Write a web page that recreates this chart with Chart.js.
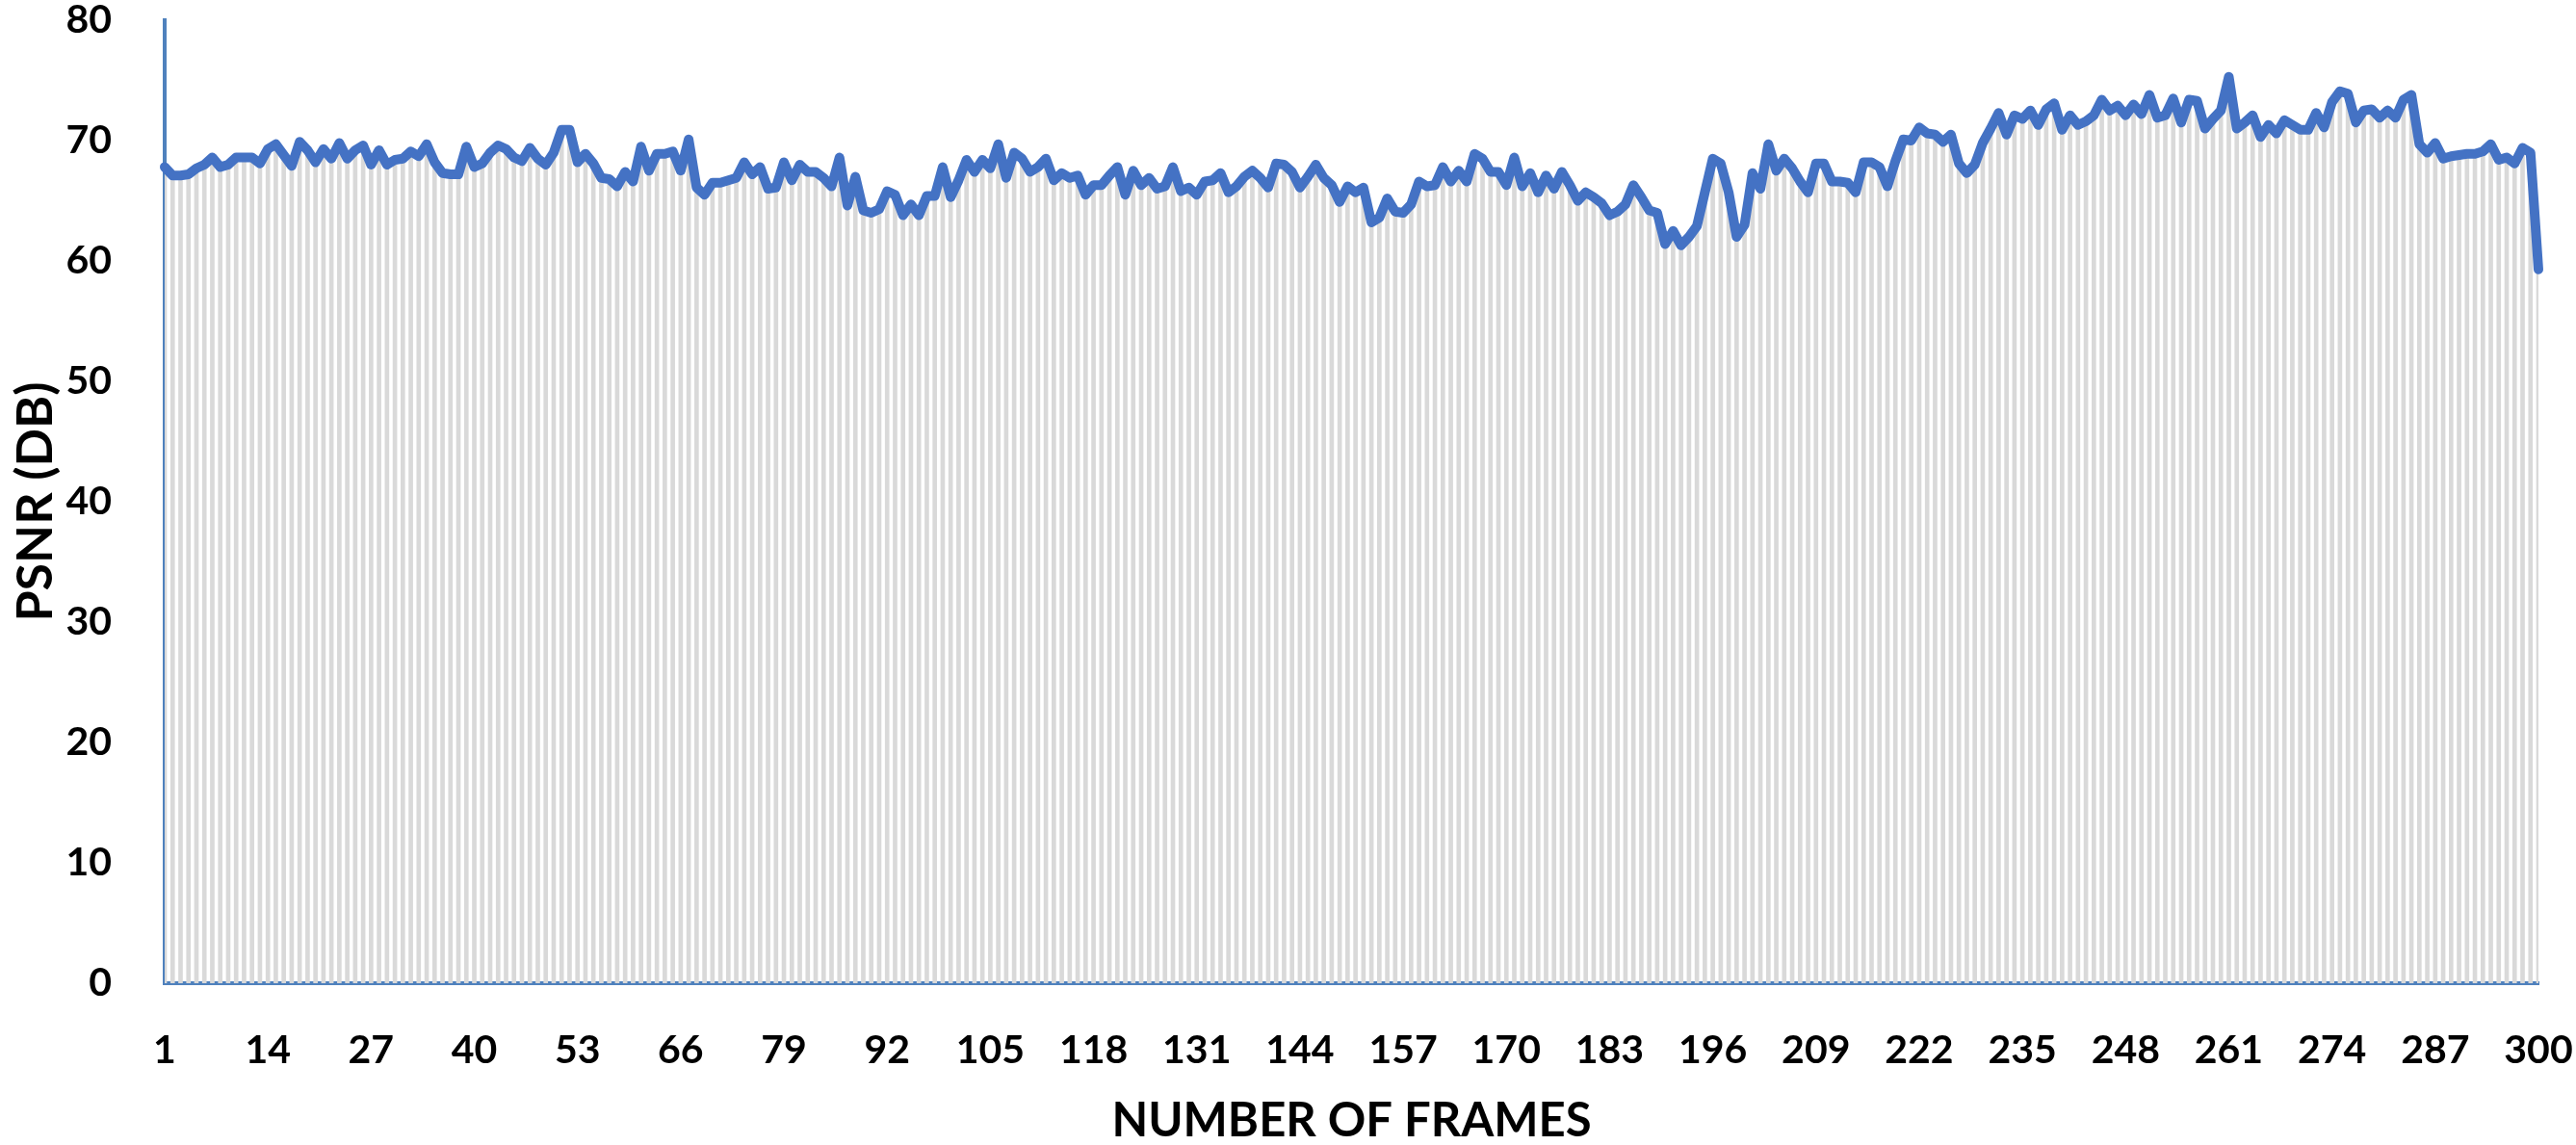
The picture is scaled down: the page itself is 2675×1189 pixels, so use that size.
<!DOCTYPE html>
<html>
<head>
<meta charset="utf-8">
<script src="https://cdn.jsdelivr.net/npm/chart.js@4.4.1/dist/chart.umd.min.js"></script>
<style>
html,body{margin:0;padding:0;background:#ffffff;overflow:hidden;}
#wrap{width:2675px;height:1189px;position:relative;}
canvas{display:block;}
</style>
</head>
<body>
<div id="wrap"><canvas id="c" width="2675" height="1189"></canvas></div>
<script>
// Categories: frame numbers 1..300
const frames = Array.from({length: 300}, (_, i) => i + 1);

// Tick labels shown on the x axis
const tickLabels = [1, 14, 27, 40, 53, 66, 79, 92, 105, 118, 131, 144, 157, 170, 183, 196, 209, 222, 235, 248, 261, 274, 287, 300];

// Y tick values
const yTicks = [0, 10, 20, 30, 40, 50, 60, 70, 80];

// PSNR (dB) per frame
const psnrFrames1to100 = [
  67.8, 67.1, 67.1, 67.2, 67.7, 68.0, 68.6, 67.8, 68.0, 68.6,
  68.6, 68.6, 68.1, 69.3, 69.7, 68.8, 67.9, 69.9, 69.2, 68.2,
  69.3, 68.5, 69.8, 68.5, 69.2, 69.6, 68.0, 69.2, 68.0, 68.4,
  68.5, 69.1, 68.7, 69.7, 68.2, 67.3, 67.2, 67.2, 69.5, 67.8,
  68.1, 69.0, 69.6, 69.3, 68.6, 68.3, 69.4, 68.5, 68.0, 69.0,
  70.9, 70.9, 68.2, 68.9, 68.1, 66.9, 66.8, 66.2, 67.4, 66.6,
  69.5, 67.5, 68.9, 68.9, 69.1, 67.5, 70.1, 66.1, 65.5, 66.5,
  66.5, 66.7, 66.9, 68.2, 67.2, 67.8, 66.0, 66.1, 68.2, 66.7,
  68.0, 67.4, 67.4, 66.9, 66.2, 68.6, 64.6, 67.0, 64.2, 64.0,
  64.3, 65.8, 65.5, 63.8, 64.7, 63.8, 65.4, 65.4, 67.8, 65.3
];
const psnrFrames101to200 = [
  66.7, 68.4, 67.4, 68.4, 67.7, 69.7, 66.9, 69.0, 68.5, 67.4,
  67.8, 68.5, 66.7, 67.3, 66.9, 67.1, 65.5, 66.3, 66.3, 67.1,
  67.8, 65.5, 67.5, 66.3, 66.9, 66.0, 66.2, 67.8, 65.8, 66.1,
  65.5, 66.6, 66.7, 67.3, 65.7, 66.2, 67.0, 67.5, 66.9, 66.1,
  68.1, 68.0, 67.4, 66.1, 67.0, 68.0, 66.9, 66.3, 64.9, 66.2,
  65.7, 66.1, 63.2, 63.6, 65.2, 64.1, 64.0, 64.7, 66.6, 66.2,
  66.3, 67.8, 66.6, 67.5, 66.6, 68.9, 68.5, 67.4, 67.4, 66.3,
  68.6, 66.2, 67.3, 65.7, 67.1, 66.0, 67.4, 66.3, 65.0, 65.7,
  65.3, 64.8, 63.8, 64.1, 64.7, 66.3, 65.3, 64.2, 64.0, 61.4,
  62.5, 61.3, 62.0, 62.9, 65.7, 68.5, 68.1, 65.7, 62.0, 63.0
];
const psnrFrames201to300 = [
  67.3, 66.0, 69.7, 67.5, 68.5, 67.7, 66.6, 65.7, 68.1, 68.1,
  66.6, 66.6, 66.5, 65.7, 68.2, 68.2, 67.8, 66.2, 68.3, 70.1,
  70.0, 71.1, 70.6, 70.5, 69.9, 70.5, 68.1, 67.3, 68.0, 69.8,
  71.0, 72.3, 70.5, 72.1, 71.8, 72.5, 71.3, 72.6, 73.1, 70.9,
  72.1, 71.3, 71.6, 72.1, 73.4, 72.5, 72.9, 72.1, 73.0, 72.2,
  73.8, 71.9, 72.1, 73.5, 71.5, 73.4, 73.3, 71.0, 71.8, 72.5,
  75.3, 71.0, 71.5, 72.1, 70.3, 71.3, 70.6, 71.7, 71.3, 70.9,
  70.9, 72.3, 71.1, 73.2, 74.1, 73.9, 71.5, 72.5, 72.6, 71.9,
  72.5, 71.9, 73.4, 73.8, 69.7, 69.0, 69.8, 68.5, 68.7, 68.8,
  68.9, 68.9, 69.1, 69.7, 68.4, 68.6, 68.1, 69.4, 69.0, 59.3
];
const psnr = psnrFrames1to100.concat(psnrFrames101to200, psnrFrames201to300);

const FONT = "Lato, 'Open Sans', 'Liberation Sans', sans-serif";
const tickFont = {family: FONT, size: 41, weight: 'bold'};
const xTitleFont = {family: FONT, size: 49, weight: 'bold', lineHeight: 1.0};
const yTitleFont = {family: FONT, size: 52, weight: 'bold', lineHeight: 1.0};

new Chart(document.getElementById('c').getContext('2d'), {
  type: 'line',
  data: {
    labels: frames,
    datasets: [
      {
        type: 'line',
        data: psnr,
        borderColor: '#4472C4',
        borderWidth: 10,
        pointRadius: 0,
        tension: 0,
        borderJoinStyle: 'round',
        borderCapStyle: 'round',
        fill: false,
        clip: false,
        order: 0
      },
      {
        type: 'bar',
        data: psnr,
        backgroundColor: '#d9d9d9',
        borderWidth: 0,
        barThickness: 4,
        order: 1
      }
    ]
  },
  options: {
    responsive: false,
    animation: false,
    devicePixelRatio: 1,
    layout: {padding: {left: 0, right: 39, top: 21, bottom: 0}},
    plugins: {legend: {display: false}, tooltip: {enabled: false}},
    scales: {
      x: {
        type: 'category',
        offset: false,
        grid: {display: false},
        border: {display: true, color: '#4f81bd', width: 4},
        ticks: {
          autoSkip: false,
          maxRotation: 0,
          minRotation: 0,
          padding: 37,
          color: '#000000',
          font: tickFont,
          callback: function (value, index) {
            const f = frames[index];
            return tickLabels.includes(f) ? String(f) : '';
          }
        },
        title: {
          display: true,
          text: 'NUMBER OF FRAMES',
          color: '#000000',
          font: xTitleFont,
          padding: {top: 0, bottom: 0}
        },
        afterFit: function (s) {
          s.height = 168;
          s.paddingLeft = 0;
          s.paddingRight = 0;
        }
      },
      y: {
        min: 0,
        max: 80,
        grid: {display: false},
        border: {display: true, color: '#4f81bd', width: 4},
        afterBuildTicks: function (s) { s.ticks = yTicks.map(v => ({value: v})); },
        ticks: {
          padding: 47,
          color: '#000000',
          font: tickFont
        },
        title: {
          display: true,
          text: 'PSNR (DB)',
          color: '#000000',
          font: yTitleFont,
          padding: {top: 11, bottom: 0}
        },
        afterFit: function (s) {
          s.width = 171;
          s.paddingTop = 0;
          s.paddingBottom = 0;
        }
      }
    }
  }
});
</script>
</body>
</html>
